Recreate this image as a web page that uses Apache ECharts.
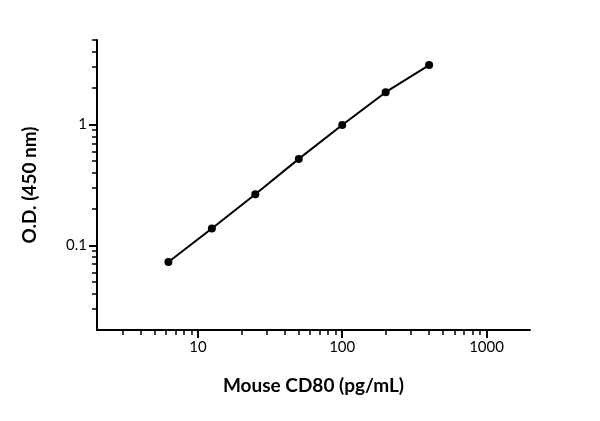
<!DOCTYPE html>
<html>
<head>
<meta charset="utf-8">
<script src="https://cdn.jsdelivr.net/npm/echarts@6/dist/echarts.min.js"></script>
<style>html,body{margin:0;background:#fff}#main{width:600px;height:421px}</style>
</head>
<body>
<div id="main"></div>
<script>
var conc = [6.25, 12.5, 25, 50, 100, 200, 400];
var od = [0.073, 0.138, 0.265, 0.52, 0.99, 1.85, 3.1];
var xMajor = [10, 100, 1000];
var xMinor = [3, 4, 5, 6, 7, 8, 9, 20, 30, 40, 50, 60, 70, 80, 90, 200, 300, 400, 500, 600, 700, 800, 900];
var yMajor = [0.1, 1];
var yMinor = [0.03, 0.04, 0.05, 0.06, 0.07, 0.08, 0.09, 0.2, 0.3, 0.4, 0.5, 0.6, 0.7, 0.8, 0.9, 2, 3, 4, 5];

var pts = conc.map(function (c, i) { return [c, od[i]]; });
var font = 'Lato, "DejaVu Sans", sans-serif';
var plain = function (v) { return String(v); };

var myChart = echarts.init(document.getElementById('main'));
var option = {
	animation: false,
	grid: { left: 97, right: 70, top: 40, bottom: 91 },
	xAxis: [
		{
			type: 'log', min: 2, max: 2000,
			name: 'Mouse CD80 (pg/mL)', nameLocation: 'middle', nameGap: 46,
			nameTextStyle: { fontFamily: font, fontWeight: 'bold', fontSize: 19, color: '#000' },
			axisLine: { onZero: false, lineStyle: { color: '#000', width: 2 } },
			axisTick: { length: 8, lineStyle: { width: 2 }, customValues: xMajor },
			axisLabel: { customValues: xMajor, formatter: plain, color: '#000', fontFamily: font, fontSize: 15, margin: 10 },
			splitLine: { show: false }
		},
		{
			type: 'log', min: 2, max: 2000, position: 'bottom',
			axisLine: { show: false },
			axisTick: { length: 5, lineStyle: { width: 1.5, color: '#000' }, customValues: xMinor },
			axisLabel: { show: false },
			splitLine: { show: false }
		}
	],
	yAxis: [
		{
			type: 'log', min: 0.02, max: 5,
			name: 'O.D. (450 nm)', nameLocation: 'middle', nameGap: 58,
			nameTextStyle: { fontFamily: font, fontWeight: 'bold', fontSize: 19, color: '#000' },
			axisLine: { show: true, onZero: false, lineStyle: { color: '#000', width: 2 } },
			axisTick: { show: true, length: 8, lineStyle: { width: 2 }, customValues: yMajor },
			axisLabel: { customValues: yMajor, formatter: plain, color: '#000', fontFamily: font, fontSize: 15, margin: 10 },
			splitLine: { show: false }
		},
		{
			type: 'log', min: 0.02, max: 5, position: 'left',
			axisLine: { show: false },
			axisTick: { show: true, length: 5, lineStyle: { width: 1.5, color: '#000' }, customValues: yMinor },
			axisLabel: { show: false },
			splitLine: { show: false }
		}
	],
	series: [
		{
			type: 'line',
			data: pts,
			symbol: 'circle', symbolSize: 8,
			lineStyle: { color: '#000', width: 2 },
			itemStyle: { color: '#000' }
		},
		{
			type: 'line', xAxisIndex: 1, yAxisIndex: 1,
			data: [], silent: true
		}
	]
};
myChart.setOption(option);
</script>
</body>
</html>
